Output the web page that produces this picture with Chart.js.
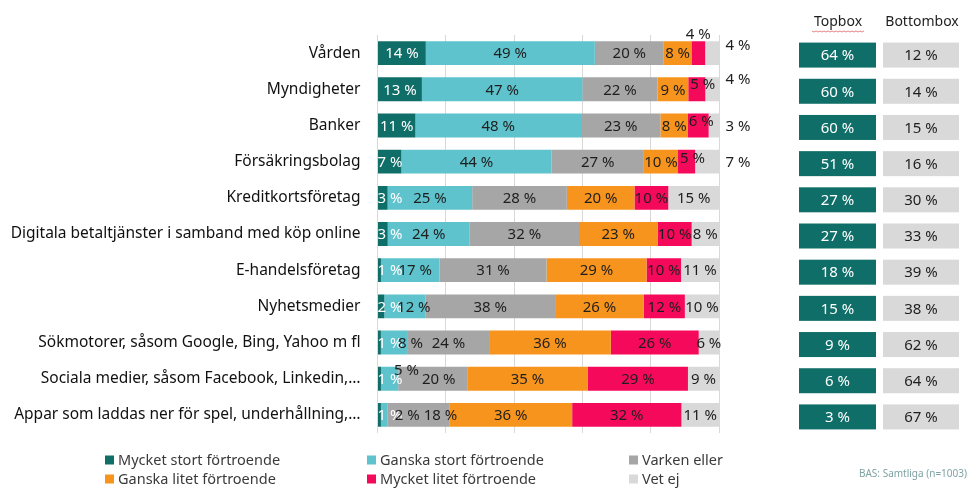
<!DOCTYPE html>
<html>
<head>
<meta charset="utf-8">
<script src="https://cdn.jsdelivr.net/npm/chart.js@4.4.1/dist/chart.umd.min.js"></script>
<style>
  html, body { margin: 0; padding: 0; background: #ffffff; }
  #wrap { width: 975px; height: 502px; }
</style>
</head>
<body>
<div id="wrap"><canvas id="c" width="975" height="502"></canvas></div>
<script>
// ---------- DATA ----------
const categories = [
  "Vården",
  "Myndigheter",
  "Banker",
  "Försäkringsbolag",
  "Kreditkortsföretag",
  "Digitala betaltjänster i samband med köp online",
  "E-handelsföretag",
  "Nyhetsmedier",
  "Sökmotorer, såsom Google, Bing, Yahoo m fl",
  "Sociala medier, såsom Facebook, Linkedin,…",
  "Appar som laddas ner för spel, underhållning,…"
];
const seriesNames = [
  "Mycket stort förtroende",
  "Ganska stort förtroende",
  "Varken eller",
  "Ganska litet förtroende",
  "Mycket litet förtroende",
  "Vet ej"
];
const mycketStort = [14, 13, 11, 7, 3, 3, 1, 2, 1, 1, 1];
const ganskaStort = [49, 47, 48, 44, 25, 24, 17, 12, 8, 5, 2];
const varkenEller = [20, 22, 23, 27, 28, 32, 31, 38, 24, 20, 18];
const ganskaLitet = [8, 9, 8, 10, 20, 23, 29, 26, 36, 35, 36];
const mycketLitet = [4, 5, 6, 5, 10, 10, 10, 12, 26, 29, 32];
const vetEj = [4, 4, 3, 7, 15, 8, 11, 10, 6, 9, 11];
const topbox = [64, 60, 60, 51, 27, 27, 18, 15, 9, 6, 3];
const bottombox = [12, 14, 15, 16, 30, 33, 39, 38, 62, 64, 67];
const xTicks = [0, 20, 40, 60, 80, 100];
const topboxTitle = "Topbox";
const bottomboxTitle = "Bottombox";
const baseNote = "BAS: Samtliga (n=1003)";

// ---------- STYLE ----------
const colors = ["#106e68", "#5ec3cd", "#a6a6a6", "#f7941d", "#f50a5b", "#d9d9d9"];
const FONT = "'Noto Sans', 'Open Sans', sans-serif";

// 100% stacked (like the original): each row scaled to its own total
const rawSeries = [mycketStort, ganskaStort, varkenEller, ganskaLitet, mycketLitet, vetEj];
const rowTotals = categories.map((_, i) => rawSeries.reduce((s, arr) => s + arr[i], 0));

const datasets = rawSeries.map((arr, k) => ({
  label: seriesNames[k],
  data: arr.map((v, i) => v / rowTotals[i] * 100),
  rawValues: arr,
  backgroundColor: colors[k],
  borderWidth: 0,
  barPercentage: 0.66,
  categoryPercentage: 1.0
}));

// label placement tweaks (row-series): [dx, dy, outside]
const labelTweaks = {
  "0-4": [0, -19], "0-5": [0, -8, true],
  "1-4": [6, -6], "1-5": [0, -11, true],
  "2-4": [3, -5], "2-5": [0, 0, true],
  "3-4": [6, -4], "3-5": [0, 0, true],
  "6-1": [5, 0], "7-1": [9, 0],
  "8-1": [16, 0],
  "9-1": [17, -9], "9-2": [6, 0],
  "10-1": [23, 0], "10-2": [22, 0]
};

const labelPlugin = {
  id: "barLabels",
  afterDatasetsDraw(chart) {
    const ctx = chart.ctx;
    const area = chart.chartArea;
    ctx.save();
    ctx.font = "15px " + FONT;
    ctx.textBaseline = "middle";
    ctx.textAlign = "center";
    chart.data.datasets.forEach((ds, k) => {
      const meta = chart.getDatasetMeta(k);
      meta.data.forEach((el, i) => {
        const txt = ds.rawValues[i] + " %";
        const w = ctx.measureText(txt).width;
        let x = (el.x + el.base) / 2;
        let y = el.y;
        const t = labelTweaks[i + "-" + k];
        if (t) {
          if (t[2]) x = area.right + 19;
          x += t[0];
          y += t[1];
        }
        if (x - w / 2 < area.left) x = area.left + w / 2;
        ctx.fillStyle = k === 0 ? "#ffffff" : "#1e1e1e";
        ctx.fillText(txt, x, y + 1);
      });
    });
    ctx.restore();
  }
};

const sidePlugin = {
  id: "sideBoxes",
  afterDraw(chart) {
    const ctx = chart.ctx;
    const yScale = chart.scales.y;
    ctx.save();
    // headers
    ctx.font = "14px " + FONT;
    ctx.fillStyle = "#1e1e1e";
    ctx.textAlign = "center";
    ctx.textBaseline = "middle";
    ctx.fillText(topboxTitle, 838, 22);
    ctx.fillText(bottomboxTitle, 922, 22);
    // spell-check squiggle under Topbox
    ctx.strokeStyle = "rgba(220,80,80,0.7)";
    ctx.lineWidth = 1;
    ctx.beginPath();
    for (let x = 812; x <= 864; x += 2) {
      const yy = 31 + ((x / 2) % 2 === 0 ? 0 : 1);
      if (x === 812) ctx.moveTo(x, yy); else ctx.lineTo(x, yy);
    }
    ctx.stroke();
    // boxes
    ctx.font = "15px " + FONT;
    categories.forEach((c, i) => {
      const yc = yScale.getPixelForValue(i) + 2;
      ctx.fillStyle = colors[0];
      ctx.fillRect(799, yc - 12.5, 77, 25);
      ctx.fillStyle = colors[5];
      ctx.fillRect(883, yc - 12.5, 76, 25);
      ctx.fillStyle = "#ffffff";
      ctx.fillText(topbox[i] + " %", 837.5, yc + 1);
      ctx.fillStyle = "#1e1e1e";
      ctx.fillText(bottombox[i] + " %", 921, yc + 1);
    });
    // legend
    ctx.textAlign = "left";
    ctx.font = "14.5px " + FONT;
    seriesNames.forEach((name, k) => {
      const col = k % 3, row = Math.floor(k / 3);
      const x = 105 + col * 262;
      const y = 460 + row * 19;
      ctx.fillStyle = colors[k];
      ctx.fillRect(x, y - 4.5, 9, 9);
      ctx.fillStyle = "#3a3a3a";
      ctx.fillText(name, x + 13, y + 1);
    });
    // base note
    ctx.textAlign = "right";
    ctx.font = "10px " + FONT;
    ctx.fillStyle = "#7fa2a2";
    ctx.fillText(baseNote, 967, 474);
    ctx.restore();
  }
};

new Chart(document.getElementById("c"), {
  type: "bar",
  data: { labels: categories, datasets },
  plugins: [labelPlugin, sidePlugin],
  options: {
    indexAxis: "y",
    responsive: false,
    animation: false,
    layout: { padding: { left: 0, right: 256, top: 35, bottom: 69 } },
    plugins: { legend: { display: false }, tooltip: { enabled: false } },
    scales: {
      x: {
        stacked: true,
        min: 0,
        max: 100,
        afterBuildTicks(scale) { scale.ticks = xTicks.map(v => ({ value: v })); },
        afterFit(scale) { scale.height = 0; },
        ticks: { display: false },
        grid: { color: "#d9d9d9", drawTicks: false, lineWidth: 1 },
        border: { display: false }
      },
      y: {
        stacked: true,
        afterFit(scale) { scale.width = 377.5; },
        grid: { display: false, drawTicks: false },
        border: { display: false },
        ticks: {
          padding: 17,
          color: "#111111",
          font: { family: FONT, size: 15.5 }
        }
      }
    }
  }
});
</script>
</body>
</html>
